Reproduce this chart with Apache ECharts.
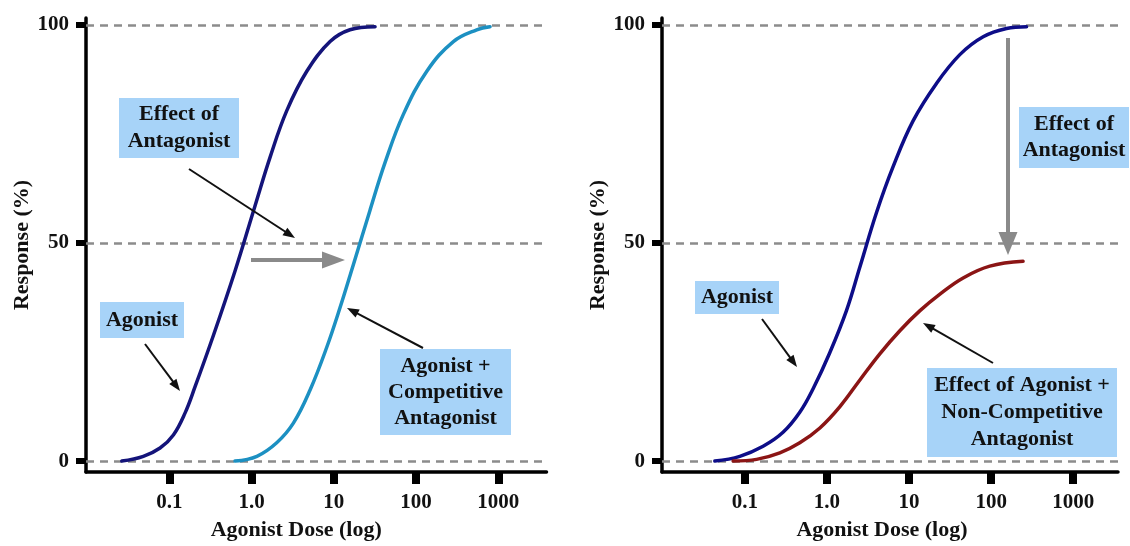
<!DOCTYPE html>
<html>
<head>
<meta charset="utf-8">
<script src="https://cdn.jsdelivr.net/npm/echarts@6/dist/echarts.min.js"></script>
<style>
  html, body { margin: 0; padding: 0; background: #fff; }
  #chart { width: 1130px; height: 546px; }
</style>
</head>
<body>
<div id="chart"></div>
<script>
// ---------- data ----------
const xTickValues = [0.1, 1, 10, 100, 1000];
const xTickLabels = ['0.1', '1.0', '10', '100', '1000'];
const yTickValues = [0, 50, 100];
const refLines = [0, 50, 100];

// Left panel: Agonist
const leftAgonist = [
  [0.0264, 0], [0.0483, 1.1], [0.0771, 3.0], [0.112, 6.0], [0.155, 11.0], [0.205, 17.0],
  [0.343, 28.8], [0.629, 43.6], [1.10, 58.5], [1.68, 69.7], [2.67, 80.3],
  [4.69, 89.4], [9.0, 96.2], [15.7, 98.9], [31.7, 99.6]
];
// Left panel: Agonist + Competitive Antagonist
const leftCompetitive = [
  [0.629, 0], [1.16, 1.1], [2.02, 4.2], [3.22, 8.7], [5.14, 16.3], [8.20, 26.1],
  [11.9, 35.2], [17.3, 45.1], [27.6, 57.6], [42.0, 68.5], [70.0, 79.5],
  [135, 89.4], [284, 96.2], [546, 98.9], [793, 99.6]
];
// Right panel: Agonist
const rightAgonist = [
  [0.0431, 0], [0.0869, 1.1], [0.167, 3.4], [0.292, 6.6], [0.467, 11.2], [0.679, 16.6],
  [1.08, 24.8], [1.73, 34.5], [2.52, 44.5], [4.02, 57.0], [6.40, 67.5],
  [11.2, 78.0], [21.6, 86.6], [41.6, 93.2], [80.0, 97.3], [154, 99.2], [270, 99.6]
];
// Right panel: Agonist + Non-Competitive Antagonist
const rightNonCompetitive = [
  [0.072, 0], [0.139, 0.4], [0.267, 1.9], [0.467, 4.2], [0.821, 7.6], [1.44, 12.5],
  [2.52, 18.6], [4.41, 24.6], [7.73, 29.9], [13.6, 34.5], [23.8, 38.3], [45.6, 42.0],
  [96.4, 44.7], [245, 45.8]
];

// ---------- styling ----------
const FONT = '"Liberation Serif", "Times New Roman", serif';
const TXT = '#111';

function xAxisCfg(gi, min, max, pad) {
  return {
    type: 'log', logBase: 10, gridIndex: gi, min: min, max: max,
    axisLine: { show: true, onZero: false, lineStyle: { color: '#000', width: 3.5 } },
    axisTick: { show: true, length: 12, customValues: xTickValues, lineStyle: { color: '#000', width: 8 } },
    axisLabel: {
      customValues: xTickValues, margin: 20, fontSize: 21, fontWeight: 'bold',
      fontFamily: FONT, color: TXT,
      formatter: function (v) {
        const k = Math.round(Math.log10(v));
        const i = xTickValues.findIndex(t => Math.round(Math.log10(t)) === k);
        return i >= 0 ? xTickLabels[i] : '';
      }
    },
    splitLine: { show: false },
    name: 'Agonist Dose (log)', nameLocation: 'middle', nameGap: 47,
    nameTextStyle: { fontSize: 22, fontWeight: 'bold', fontFamily: FONT, color: TXT, padding: pad }
  };
}
function yAxisCfg(gi, gap) {
  return {
    type: 'value', gridIndex: gi, min: -2.5, max: 101.6,
    axisLine: { show: true, onZero: false, lineStyle: { color: '#000', width: 3.5 } },
    axisTick: { show: true, length: 10, customValues: yTickValues, lineStyle: { color: '#000', width: 6 } },
    axisLabel: { customValues: yTickValues, margin: 17, fontSize: 21, fontWeight: 'bold', fontFamily: FONT, color: TXT },
    splitLine: { show: false },
    name: 'Response (%)', nameLocation: 'middle', nameGap: gap, nameRotate: 90,
    nameTextStyle: { fontSize: 22, fontWeight: 'bold', fontFamily: FONT, color: TXT }
  };
}
function refMarkLine() {
  return {
    silent: true, symbol: ['none', 'none'], z: 1, animation: false,
    label: { show: false },
    lineStyle: { color: '#8c8c8c', width: 2.5, type: [8, 6] },
    data: refLines.map(v => ({ yAxis: v }))
  };
}
function curve(gi, data, color, withRef) {
  const s = {
    type: 'line', xAxisIndex: gi, yAxisIndex: gi, data: data,
    smooth: 0.4, showSymbol: false, symbol: 'none', z: 3,
    lineStyle: { color: color, width: 3.5, cap: 'round' }, itemStyle: { color: color }
  };
  if (withRef) s.markLine = refMarkLine();
  return s;
}

// ---------- annotation helpers ----------
function arrow(x1, y1, x2, y2, color, lw, hl, hw) {
  const a = Math.atan2(y2 - y1, x2 - x1);
  const bx = x2 - hl * Math.cos(a), by = y2 - hl * Math.sin(a);
  const px = -Math.sin(a) * hw / 2, py = Math.cos(a) * hw / 2;
  return [
    { type: 'line', z: 10, shape: { x1: x1, y1: y1, x2: bx + Math.cos(a), y2: by + Math.sin(a) }, style: { stroke: color, lineWidth: lw } },
    { type: 'polygon', z: 10, shape: { points: [[x2, y2], [bx + px, by + py], [bx - px, by - py]] }, style: { fill: color } }
  ];
}
function box(x, y, w, h, text, lh) {
  return [
    { type: 'rect', z: 8, shape: { x: x, y: y, width: w, height: h }, style: { fill: '#a7d3f8' } },
    { type: 'text', z: 9, x: x + w / 2, y: y + h / 2,
      style: { text: text, fill: TXT, font: 'bold 22px ' + FONT, align: 'center', verticalAlign: 'middle', lineHeight: lh } }
  ];
}

const graphics = [].concat(
  box(119, 98, 120, 60, 'Effect of\nAntagonist', 27),
  box(100, 302, 84, 36, 'Agonist', 26),
  box(380, 349, 131, 86, 'Agonist +\nCompetitive\nAntagonist', 26),
  box(1019, 107, 110, 61, 'Effect of\nAntagonist', 26),
  box(695, 281, 84, 33, 'Agonist', 26),
  box(927, 368, 190, 89, 'Effect of Agonist +\nNon-Competitive\nAntagonist', 27),
  arrow(189, 169, 295, 238, '#111', 2, 12, 9),
  arrow(145, 344, 180, 391, '#111', 2, 12, 9),
  arrow(423, 348, 347, 308, '#111', 2, 12, 9),
  arrow(762, 319, 797, 367, '#111', 2, 12, 9),
  arrow(993, 363, 923, 323, '#111', 2, 12, 9),
  arrow(251, 260, 345, 260, '#8a8a8a', 4, 23, 17),
  arrow(1008, 38, 1008, 255, '#8a8a8a', 4, 23, 19)
);

const chart = echarts.init(document.getElementById('chart'), null, { renderer: 'canvas' });
chart.setOption({
  animation: false,
  backgroundColor: '#ffffff',
  grid: [
    { left: 86, top: 18, width: 460.5, bottom: 70 },
    { left: 662, top: 18, width: 456, bottom: 70 }
  ],
  xAxis: [xAxisCfg(0, 0.0097, 3850, [0, 40, 0, 0]), xAxisCfg(1, 0.0098, 3510, [0, 16, 0, 0])],
  yAxis: [yAxisCfg(0, 53), yAxisCfg(1, 51)],
  series: [
    curve(0, leftAgonist, '#14147a', true),
    curve(0, leftCompetitive, '#1c90c2', false),
    curve(1, rightAgonist, '#0d0d88', true),
    curve(1, rightNonCompetitive, '#8b1515', false)
  ],
  graphic: graphics
});
</script>
</body>
</html>
